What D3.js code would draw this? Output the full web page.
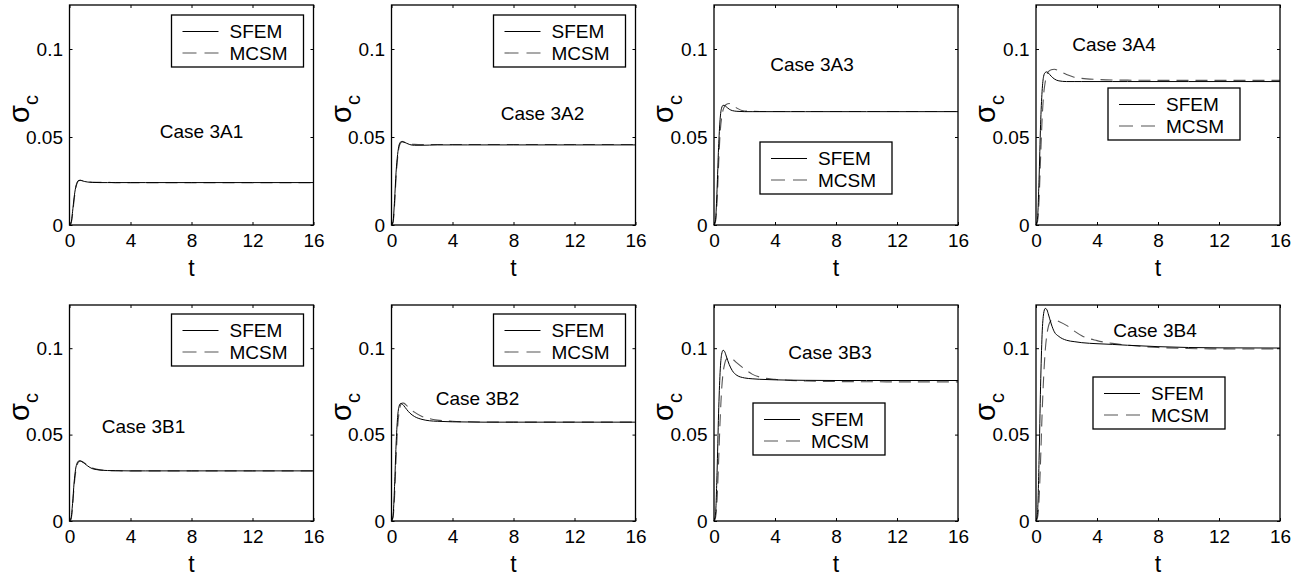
<!DOCTYPE html>
<html>
<head>
<meta charset="utf-8">
<script src="https://cdn.jsdelivr.net/npm/d3@7"></script>
<style>
  body { margin: 0; background: #fff; }
  text { font-family: "Liberation Sans", Arial, Helvetica, sans-serif; fill: #000; }
</style>
</head>
<body>
<svg id="chart" width="1300" height="580"></svg>
<script>
// time samples shared by every curve
const tValues = [0, 0.1, 0.2, 0.3, 0.4, 0.5, 0.6, 0.7, 0.8, 1.0, 1.2, 1.5, 2, 2.5, 3, 4, 5, 6, 8, 10, 12, 16];
const xTicks = [0, 4, 8, 12, 16];
const yTicks = [0, 0.05, 0.1];
const yTickLabels = ["0", "0.05", "0.1"];
const seriesNames = ["SFEM", "MCSM"];
const caseNames = ["Case 3A1", "Case 3A2", "Case 3A3", "Case 3A4", "Case 3B1", "Case 3B2", "Case 3B3", "Case 3B4"];

const sfem3A1 = [0, 0.0012, 0.0075, 0.0155, 0.0212, 0.0242, 0.0253, 0.0254, 0.0252, 0.0247, 0.0244, 0.0242, 0.0241, 0.0241, 0.0241, 0.0241, 0.0241, 0.0241, 0.0241, 0.0241, 0.0241, 0.0241];
const mcsm3A1 = [0, 0.0008, 0.0060, 0.0140, 0.0205, 0.0238, 0.0251, 0.0254, 0.0253, 0.0248, 0.0245, 0.0243, 0.0242, 0.0242, 0.0241, 0.0241, 0.0241, 0.0241, 0.0241, 0.0241, 0.0241, 0.0241];
const sfem3A2 = [0, 0.0020, 0.0140, 0.0300, 0.0400, 0.0455, 0.0472, 0.0475, 0.0472, 0.0464, 0.0457, 0.0453, 0.0453, 0.0454, 0.0455, 0.0455, 0.0455, 0.0455, 0.0455, 0.0455, 0.0455, 0.0455];
const mcsm3A2 = [0, 0.0012, 0.0110, 0.0270, 0.0380, 0.0445, 0.0466, 0.0472, 0.0471, 0.0466, 0.0461, 0.0458, 0.0457, 0.0457, 0.0457, 0.0457, 0.0457, 0.0457, 0.0457, 0.0457, 0.0457, 0.0457];
const sfem3A3 = [0, 0.0030, 0.0200, 0.0440, 0.0600, 0.0665, 0.0680, 0.0679, 0.0672, 0.0658, 0.0650, 0.0646, 0.0644, 0.0644, 0.0644, 0.0644, 0.0644, 0.0644, 0.0644, 0.0644, 0.0644, 0.0644];
const mcsm3A3 = [0, 0.0020, 0.0130, 0.0340, 0.0520, 0.0610, 0.0655, 0.0675, 0.0685, 0.0690, 0.0683, 0.0664, 0.0648, 0.0646, 0.0645, 0.0645, 0.0645, 0.0645, 0.0645, 0.0645, 0.0645, 0.0645];
const sfem3A4 = [0, 0.0040, 0.0260, 0.0570, 0.0760, 0.0845, 0.0866, 0.0870, 0.0864, 0.0845, 0.0830, 0.0819, 0.0815, 0.0815, 0.0815, 0.0815, 0.0815, 0.0815, 0.0815, 0.0815, 0.0815, 0.0815];
const mcsm3A4 = [0, 0.0020, 0.0140, 0.0380, 0.0600, 0.0740, 0.0810, 0.0850, 0.0870, 0.0882, 0.0885, 0.0875, 0.0855, 0.0840, 0.0833, 0.0827, 0.0824, 0.0823, 0.0822, 0.0822, 0.0822, 0.0822];
const sfem3B1 = [0, 0.0015, 0.0100, 0.0220, 0.0300, 0.0335, 0.0347, 0.0348, 0.0344, 0.0332, 0.0318, 0.0303, 0.0295, 0.0292, 0.0291, 0.0290, 0.0290, 0.0290, 0.0290, 0.0290, 0.0290, 0.0290];
const mcsm3B1 = [0, 0.0010, 0.0080, 0.0200, 0.0280, 0.0325, 0.0342, 0.0347, 0.0345, 0.0335, 0.0321, 0.0306, 0.0296, 0.0292, 0.0291, 0.0290, 0.0290, 0.0290, 0.0290, 0.0290, 0.0290, 0.0290];
const sfem3B2 = [0, 0.0030, 0.0200, 0.0440, 0.0600, 0.0665, 0.0680, 0.0677, 0.0668, 0.0645, 0.0625, 0.0605, 0.0588, 0.0580, 0.0577, 0.0574, 0.0573, 0.0572, 0.0572, 0.0572, 0.0572, 0.0572];
const mcsm3B2 = [0, 0.0020, 0.0140, 0.0360, 0.0540, 0.0630, 0.0672, 0.0683, 0.0682, 0.0668, 0.0650, 0.0630, 0.0605, 0.0592, 0.0584, 0.0577, 0.0574, 0.0573, 0.0572, 0.0572, 0.0572, 0.0572];
const sfem3B3 = [0, 0.0040, 0.0280, 0.0620, 0.0860, 0.0965, 0.0988, 0.0980, 0.0955, 0.0905, 0.0870, 0.0843, 0.0828, 0.0823, 0.0820, 0.0817, 0.0815, 0.0814, 0.0813, 0.0813, 0.0813, 0.0813];
const mcsm3B3 = [0, 0.0020, 0.0120, 0.0340, 0.0580, 0.0760, 0.0860, 0.0910, 0.0935, 0.0945, 0.0938, 0.0915, 0.0880, 0.0850, 0.0833, 0.0820, 0.0814, 0.0810, 0.0807, 0.0806, 0.0805, 0.0805];
const sfem3B4 = [0, 0.0050, 0.0350, 0.0780, 0.1080, 0.1200, 0.1230, 0.1225, 0.1200, 0.1140, 0.1095, 0.1068, 0.1046, 0.1038, 0.1032, 0.1026, 0.1022, 0.1017, 0.1009, 0.1004, 0.1002, 0.1001];
const mcsm3B4 = [0, 0.0020, 0.0120, 0.0350, 0.0620, 0.0830, 0.0980, 0.1070, 0.1120, 0.1160, 0.1165, 0.1155, 0.1132, 0.1100, 0.1072, 0.1044, 0.1028, 0.1018, 0.1004, 0.0998, 0.0996, 0.0995];

const sfemAll = [sfem3A1, sfem3A2, sfem3A3, sfem3A4, sfem3B1, sfem3B2, sfem3B3, sfem3B4];
const mcsmAll = [mcsm3A1, mcsm3A2, mcsm3A3, mcsm3A4, mcsm3B1, mcsm3B2, mcsm3B3, mcsm3B4];

// layout (pixels)
const colLeft = [69.5, 391.5, 714, 1036];
const rowTop = [5, 305];
const rowHeight = [220, 216];
const plotW = 244;
// legend box top-left and case label (center, baseline), relative to plot area
const legendPos = [[102, 10], [102, 10], [46, 137], [72, 83], [102, 9], [102, 9], [39, 98], [57, 72]];
const labelPos = [[132, 133], [151, 115], [98, 66], [78, 46], [74, 128], [86, 100], [116, 54], [119, 32]];

const font = 19;
const svg = d3.select("#chart");

caseNames.forEach(function (name, i) {
  const col = i % 4, row = Math.floor(i / 4);
  const h = rowHeight[row];
  const g = svg.append("g").attr("transform", "translate(" + colLeft[col] + "," + rowTop[row] + ")");

  const x = d3.scaleLinear().domain([0, 16]).range([0, plotW]);
  const y = d3.scaleLinear().domain([0, 0.125]).range([h, 0]);

  const line = d3.line()
    .x(function (d) { return x(d[0]); })
    .y(function (d) { return y(d[1]); })
    .curve(d3.curveMonotoneX);

  // axes with inward ticks on all four sides
  g.append("g").attr("transform", "translate(0," + h + ")")
    .call(d3.axisBottom(x).tickValues(xTicks).tickSize(-3).tickPadding(8.5).tickFormat(d3.format("d")));
  g.append("g").call(d3.axisTop(x).tickValues(xTicks).tickSize(-3).tickFormat(""));
  g.append("g")
    .call(d3.axisLeft(y).tickValues(yTicks).tickSize(-3).tickPadding(6.5)
      .tickFormat(function (d, k) { return yTickLabels[k]; }));
  g.append("g").attr("transform", "translate(" + plotW + ",0)")
    .call(d3.axisRight(y).tickValues(yTicks).tickSize(-3).tickFormat(""));

  g.selectAll(".domain").remove();
  g.selectAll(".tick line").attr("stroke", "#000").attr("stroke-width", 1);
  g.selectAll(".tick text").attr("font-size", font).attr("font-family", null).attr("fill", "#000");

  // curves
  const sf = tValues.map(function (t, k) { return [t, sfemAll[i][k]]; });
  const mc = tValues.map(function (t, k) { return [t, mcsmAll[i][k]]; });
  g.append("path").datum(mc)
    .attr("fill", "none").attr("stroke", "#555").attr("stroke-width", 1.1)
    .attr("stroke-dasharray", "12,7").attr("d", line);
  g.append("path").datum(sf)
    .attr("fill", "none").attr("stroke", "#000").attr("stroke-width", 1)
    .attr("d", line);

  // frame
  g.append("rect").attr("width", plotW).attr("height", h)
    .attr("fill", "none").attr("stroke", "#000").attr("stroke-width", 1.3);

  // axis titles
  g.append("text").attr("x", plotW / 2).attr("y", h + 51)
    .attr("text-anchor", "middle").attr("font-size", 23).text("t");

  const yt = g.append("text")
    .attr("transform", "translate(-41," + (h / 2 - 6) + ") rotate(-90)")
    .attr("text-anchor", "middle");
  yt.append("tspan").attr("font-size", 29).text("σ");
  yt.append("tspan").attr("font-size", 20).attr("dy", 9).text("c");

  // case label
  g.append("text").attr("x", labelPos[i][0]).attr("y", labelPos[i][1])
    .attr("text-anchor", "middle").attr("font-size", font).text(name);

  // legend
  const lg = g.append("g").attr("transform", "translate(" + legendPos[i][0] + "," + legendPos[i][1] + ")");
  lg.append("rect").attr("width", 132).attr("height", 52)
    .attr("fill", "#fff").attr("stroke", "#000").attr("stroke-width", 1.3);
  seriesNames.forEach(function (s, k) {
    const yy = 16.5 + k * 21.5;
    lg.append("line").attr("x1", 11).attr("x2", 47).attr("y1", yy).attr("y2", yy)
      .attr("stroke", k === 0 ? "#000" : "#555").attr("stroke-width", k === 0 ? 1 : 1.1)
      .attr("stroke-dasharray", k === 0 ? null : "14,8");
    lg.append("text").attr("x", 58).attr("y", yy).attr("dy", "0.36em")
      .attr("font-size", font).text(s);
  });
});
</script>
</body>
</html>
